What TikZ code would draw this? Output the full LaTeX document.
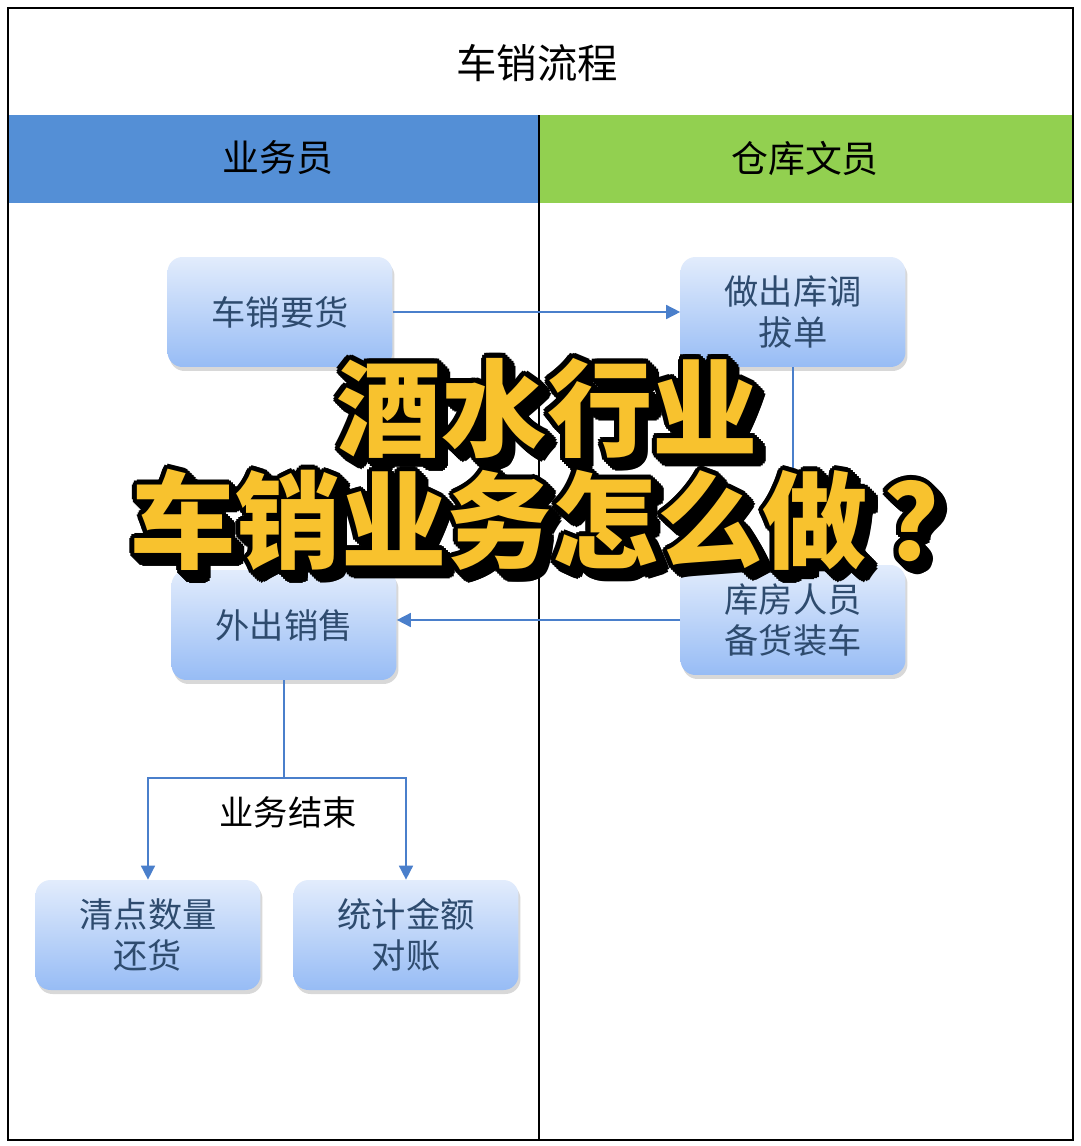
\documentclass[tikz,border=0pt]{standalone}
\usepackage{fontspec}
\setmainfont{Noto Sans CJK SC}
\newfontfamily\heavyfont{Noto Sans CJK SC Black}
\usetikzlibrary{arrows.meta,positioning,shadows,calc}
\definecolor{laneblue}{HTML}{548FD6}
\definecolor{lanegreen}{HTML}{92D050}
\definecolor{boxtop}{HTML}{E2ECFC}
\definecolor{boxbottom}{HTML}{97BCF5}
\definecolor{boxtext}{HTML}{2E4B6E}
\definecolor{flowblue}{HTML}{4A7FCB}
\definecolor{hotyellow}{HTML}{F8C22E}

\begin{document}
\begin{tikzpicture}[
      x=0.02cm,y=-0.02cm,
      box/.style={rounded corners=0.3cm,minimum width=4.5cm,minimum height=2.2cm,align=center,
        top color=boxtop,bottom color=boxbottom,text=boxtext,font=\fontsize{19.5}{23}\selectfont,
        drop shadow={opacity=0.3,shadow xshift=0.04cm,shadow yshift=-0.08cm}},
      lane/.style={font=\fontsize{21}{25}\selectfont},
      flow/.style={-{Triangle[length=8pt,width=8pt]},line width=0.9pt,flowblue},
      plain/.style={line width=0.9pt,flowblue},
      hot/.style={font=\fontsize{60}{64}\selectfont\heavyfont}
    ]
    \useasboundingbox (0,0) rectangle (1080,1146);
    \fill[white] (0,0) rectangle (1080,1146);
    % lanes
    \fill[laneblue] (8,115) rectangle (539,203);
    \fill[lanegreen] (539,115) rectangle (1073,203);
    \draw[line width=1pt] (8,8) rectangle (1073,1140);
    \draw[line width=0.8pt] (539,115) -- (539,1140);
    \node (title) at (537,63) {\fontsize{23}{27}\selectfont 车销流程};
    \node[lane] (sales) at (278,158) {业务员};
    \node[lane] (store) at (805,158) {仓库文员};
    % steps
    \node[box] (yaohuo) at (280,312) {车销要货};
    \node[box] (diaobo) at (793,312) {做出库调\\拔单};
    \node[box] (beihuo) at (793,620) {库房人员\\备货装车};
    \node[box] (waichu) at (284,625) {外出销售};
    \node[box] (qingdian) at (148,935) {清点数量\\还货};
    \node[box] (tongji) at (406,935) {统计金额\\对账};
    \coordinate (split) at (284,778);
    \draw[flow] (yaohuo) -- (diaobo);
    \draw[flow] (diaobo) -- (beihuo);
    \draw[flow] (beihuo.west) -- (beihuo.west -| waichu.east);
    \draw[plain] (waichu) -- (split);
    \draw[flow] (split) -| (qingdian);
    \draw[flow] (split) -| (tongji);
    \node[font=\fontsize{19.5}{23}\selectfont] (jieshu) at (288,812) {业务结束};
    % banner over the chart
    \foreach \s in {0,2,4,6,8} {
      \foreach \a in {0,30,...,330} {
        \node[hot,black] (shadeA-\s-\a) at ($(547,408)+(\s,\s)+(\a:5)$) {酒水行业};
        \node[hot,black] (shadeB-\s-\a) at ($(560,520)+(\s,\s)+(\a:5)$) {车销业务怎么做\hspace{0.15em}？};
      }
    }
    \node[hot,text=hotyellow] (hot1) at (547,408) {酒水行业};
    \node[hot,text=hotyellow] (hot2) at (560,520) {车销业务怎么做\hspace{0.15em}？};
  \end{tikzpicture}
\end{document}
